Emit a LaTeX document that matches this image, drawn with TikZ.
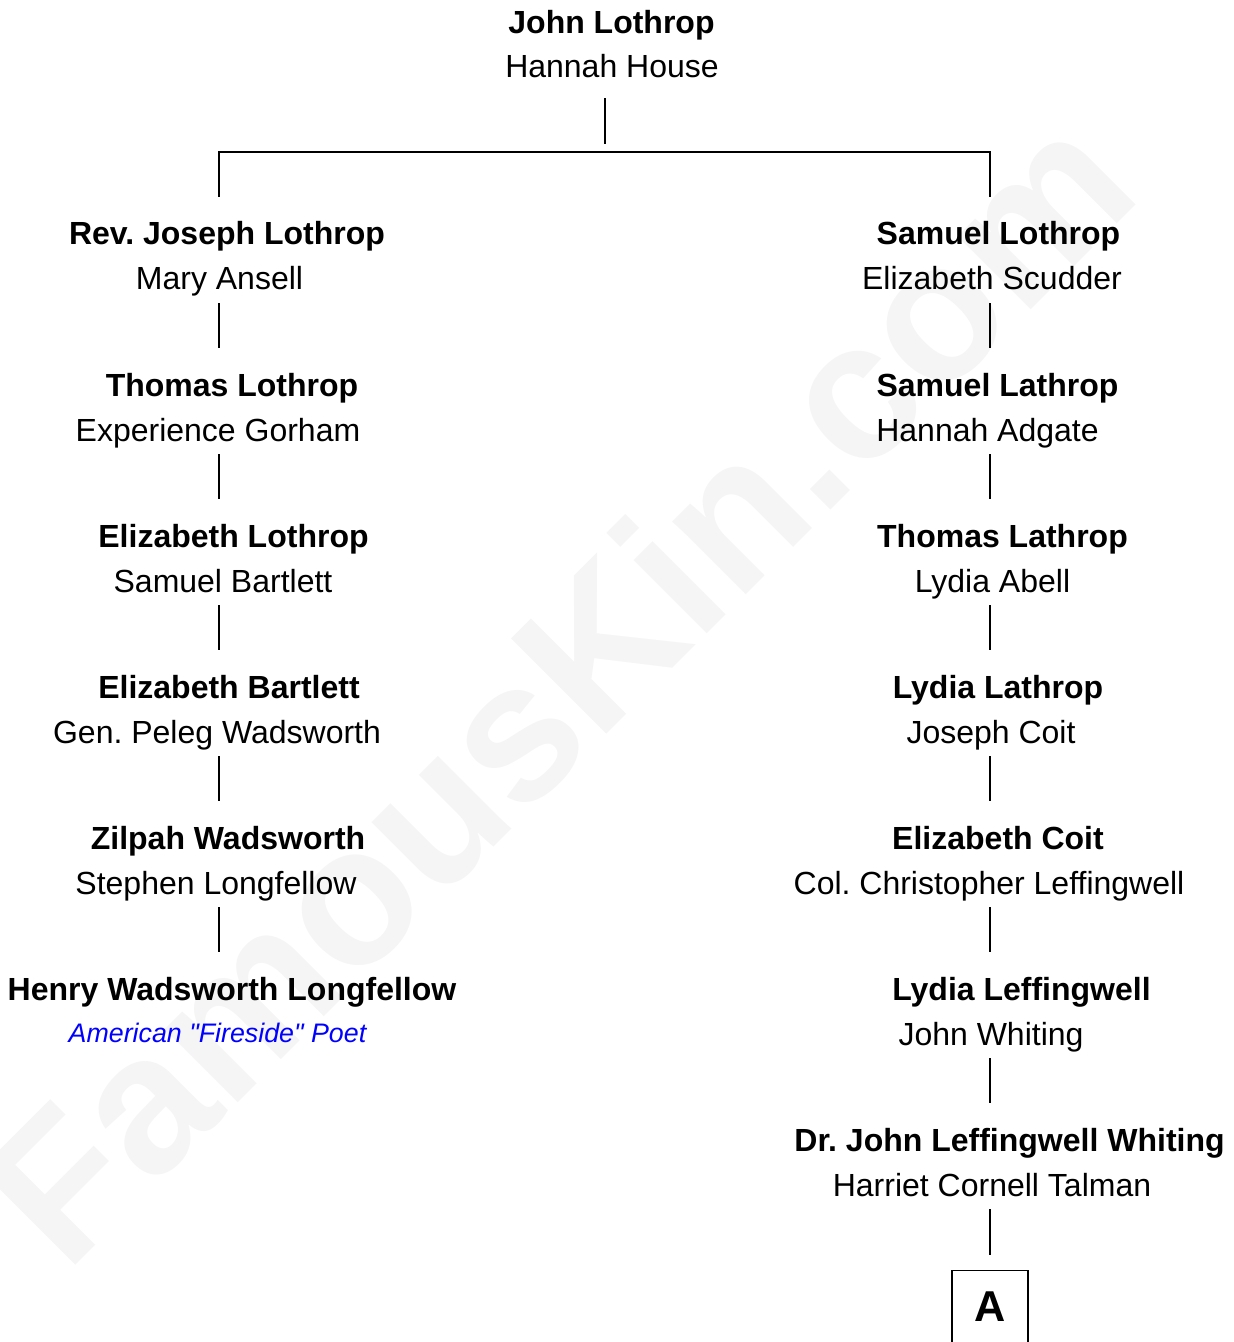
\documentclass[tikz,border=0pt]{standalone}
\usepackage{fontspec}
\setmainfont{Liberation Sans}[Ligatures=TeXOff]
\usepackage{tikz}
\usetikzlibrary{positioning, calc}
\frenchspacing

\begin{document}
\begin{tikzpicture}[x=0.5pt, y=-0.5pt,
        every node/.style={inner sep=0pt, anchor=base, text height=12pt, text depth=3.5pt},
        person/.style={font=\bfseries\fontsize{16}{19}\selectfont},
        spouse/.style={font=\fontsize{16}{19}\selectfont},
        remark/.style={font=\itshape\fontsize{13.4}{16}\selectfont, text=blue},
        bond/.style={line width=0.6pt, shorten <=3pt, shorten >=12pt}]
        \useasboundingbox (0,0) rectangle (1234,1342);

        % Faint watermark behind the tree
        \node[anchor=center, rotate=45, text=black!4, text height=, text depth=,
              font=\bfseries\fontsize{98}{118}\selectfont] (wm) at (556,686) {FamousKin.com};

        % Root couple
        \node[person] (jl) at (611.5,34) {John Lothrop};
        \node[spouse] (hh) at (612,78) {Hannah House};

        % Left branch
        \node[person] (rj) at (227,245) {Rev. Joseph Lothrop};
        \node[spouse] (ma) at (219.5,290) {Mary Ansell};
        \node[person] (tl) at (232,396) {Thomas Lothrop};
        \node[spouse] (eg) at (218,441) {Experience Gorham};
        \node[person] (elo) at (233.5,547) {Elizabeth Lothrop};
        \node[spouse] (sb) at (223,592) {Samuel Bartlett};
        \node[person] (eb) at (229,698) {Elizabeth Bartlett};
        \node[spouse] (pw) at (217,743) {Gen. Peleg Wadsworth};
        \node[person] (zw) at (228,849) {Zilpah Wadsworth};
        \node[spouse] (slf) at (216,894) {Stephen Longfellow};
        \node[person] (hw) at (232,1000) {Henry Wadsworth Longfellow};
        \node[remark] (poet) at (217.5,1042) {American "Fireside" Poet};

        % Right branch
        \node[person] (slo) at (998.5,245) {Samuel Lothrop};
        \node[spouse] (es) at (992,290) {Elizabeth Scudder};
        \node[person] (sla) at (997.5,396) {Samuel Lathrop};
        \node[spouse] (ha) at (987.5,441) {Hannah Adgate};
        \node[person] (tla) at (1002.5,547) {Thomas Lathrop};
        \node[spouse] (la) at (992.5,592) {Lydia Abell};
        \node[person] (lla) at (998,698) {Lydia Lathrop};
        \node[spouse] (jc) at (991,743) {Joseph Coit};
        \node[person] (ec) at (998,849) {Elizabeth Coit};
        \node[spouse] (cl) at (989,894) {Col. Christopher Leffingwell};
        \node[person] (lle) at (1021.5,1000) {Lydia Leffingwell};
        \node[spouse] (jw) at (991,1045) {John Whiting};
        \node[person] (jlw) at (1009.5,1151) {Dr. John Leffingwell Whiting};
        \node[spouse] (hct) at (992,1196) {Harriet Cornell Talman};

        % Continuation box
        \node[draw, line width=0.6pt, anchor=north, minimum width=38pt, inner ysep=10pt,
              text height=15.5pt, text depth=20pt, font=\bfseries\fontsize{21.6}{24}\selectfont]
              (box) at (990,1270) {A};

        % Stem columns and split bar
        \coordinate (L) at (219,0);
        \coordinate (R) at (990,0);
        \coordinate (bar) at (605,152);

        \draw[line width=0.6pt, shorten <=6.5pt, shorten >=4pt] (hh.south -| bar) -- (bar);
        \draw[bond, shorten <=12pt] (rj.north -| L) |- (bar) -| (slo.north -| R);

        % Generation links
        \foreach \i/\j in {ma/tl, eg/elo, sb/eb, pw/zw, slf/hw} {
            \draw[bond] (\i.south -| L) -- (\j.north -| L);
        }
        \foreach \i/\j in {es/sla, ha/tla, la/lla, jc/ec, cl/lle, jw/jlw} {
            \draw[bond] (\i.south -| R) -- (\j.north -| R);
        }
        \draw[bond, shorten >=7.5pt] (hct.south -| R) -- (box.north);
\end{tikzpicture}
\end{document}
